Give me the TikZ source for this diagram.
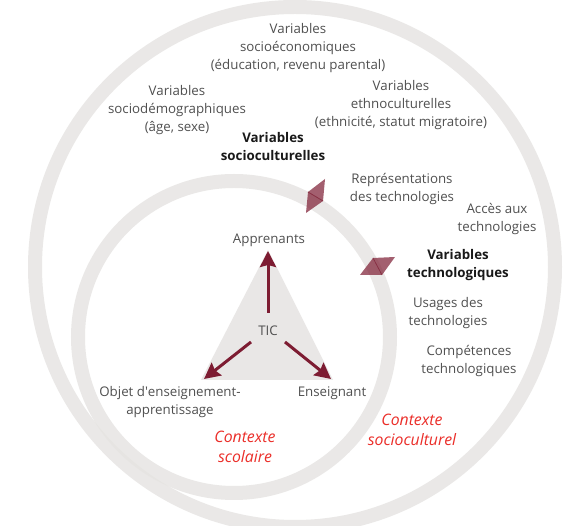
\documentclass[tikz,border=0pt]{standalone}
\usepackage{fontspec}
\setmainfont{Open Sans}
\usetikzlibrary{arrows.meta}
\definecolor{ringc}{RGB}{229,227,225}
\definecolor{tric}{RGB}{233,231,230}
\definecolor{wine}{RGB}{125,28,50}
\definecolor{txtc}{RGB}{80,80,80}
\definecolor{boldc}{RGB}{25,25,25}
\definecolor{ctxc}{RGB}{235,45,40}
\begin{document}
\begin{tikzpicture}[x=1pt,y=-1pt,
  ringline/.style={draw=ringc, line width=14pt, opacity=0.8},
  lbl/.style={text=txtc, align=center, inner sep=0pt, font=\fontsize{13.3}{18}\selectfont},
  boldlbl/.style={text=boldc, align=center, inner sep=0pt, font=\fontsize{13.3}{18}\selectfont\bfseries},
  ctxlbl/.style={text=ctxc, align=center, inner sep=0pt, font=\fontsize{15.8}{20.5}\selectfont\itshape},
  winearrow/.style={draw=wine, line width=3pt, -{Stealth[length=16pt,width=16pt,inset=2pt]}},
  rhomb/.style={fill=wine, fill opacity=0.7},
  rhombline/.style={draw=wine, line width=0.6pt, opacity=0.8}]
\useasboundingbox (0,0) rectangle (582,526);
\fill[white] (0,0) rectangle (582,526);
% rings
\path[ringline] (295,267) circle[radius=260pt];
\path[ringline] (234,337) circle[radius=156pt];
% triangle
\coordinate (A) at (268,250);
\coordinate (B) at (201,380);
\coordinate (C) at (333,380);
\fill[tric] (A) -- (B) -- (C) -- cycle;
% arrows
\coordinate (s1) at (268,313);
\coordinate (e1) at (268,251);
\coordinate (s2) at (251,342);
\coordinate (e2) at (204,379);
\coordinate (s3) at (285,342);
\coordinate (e3) at (331,379);
\draw[winearrow] (s1) -- (e1);
\draw[winearrow] (s2) -- (e2);
\draw[winearrow] (s3) -- (e3);
% rhombs
\coordinate (p1) at (325,179);
\coordinate (p2) at (308,192);
\coordinate (p3) at (306,213);
\coordinate (p4) at (323,201);
\fill[rhomb] (p1) -- (p2) -- (p4) -- cycle;
\fill[rhomb] (p2) -- (p3) -- (p4) -- cycle;
\draw[rhombline] (p2) -- (p4);
\coordinate (q1) at (360,275);
\coordinate (q2) at (373,258);
\coordinate (q3) at (395,257);
\coordinate (q4) at (382,275);
\fill[rhomb] (q1) -- (q2) -- (q4) -- cycle;
\fill[rhomb] (q2) -- (q3) -- (q4) -- cycle;
\draw[rhombline] (q2) -- (q4);
% labels
\node[lbl] (tic) at (268,331) {TIC};
\node[lbl] (appr) at (269,240) {Apprenants};
\node[lbl] (objet) at (170,402) {Objet d\textquotesingle enseignement-\\apprentissage};
\node[lbl] (ens) at (332,393) {Enseignant};
\node[ctxlbl] (ctxs) at (245,447) {Contexte\\scolaire};
\node[ctxlbl] (ctxc) at (412,430) {Contexte\\socioculturel};
\node[lbl] (secon) at (298,48) {Variables\\socioéconomiques\\(éducation, revenu parental)};
\node[lbl] (sdemo) at (177,110) {Variables\\sociodémographiques\\(âge, sexe)};
\node[lbl] (ethno) at (401,105) {Variables\\ethnoculturelles\\(ethnicité, statut migratoire)};
\node[boldlbl] (scult) at (273,147) {Variables\\socioculturelles};
\node[lbl] (repr) at (402,189) {Représentations\\des technologies};
\node[lbl] (acces) at (497,219) {Accès aux\\technologies};
\node[boldlbl] (vtech) at (458,265) {Variables\\technologiques};
\node[lbl] (usag) at (448,313) {Usages des\\technologies};
\node[lbl] (comp) at (469,361) {Compétences\\technologiques};
\end{tikzpicture}
\end{document}
